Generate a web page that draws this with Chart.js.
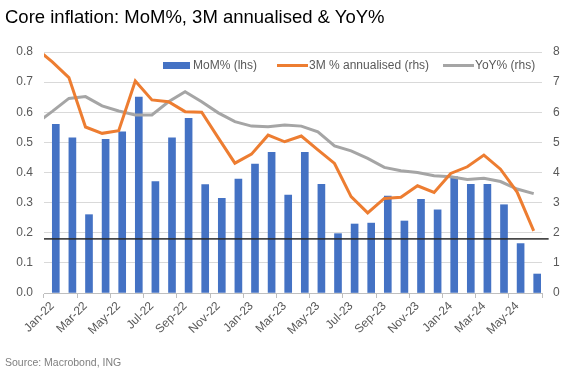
<!DOCTYPE html>
<html>
<head>
<meta charset="utf-8">
<script src="https://cdn.jsdelivr.net/npm/chart.js@4"></script>
<style>
  html, body { margin:0; padding:0; background:#fff; }
  #wrap { position:relative; width:580px; height:386px; overflow:hidden; }
  #title { position:absolute; left:5px; top:6px; font-family:'Liberation Sans', Arial, sans-serif; font-size:18.5px; line-height:22px; color:#000; white-space:nowrap; }
  #source { position:absolute; left:5px; top:356px; font-family:'Liberation Sans', Arial, sans-serif; font-size:10.5px; line-height:13px; color:#7f7f7f; white-space:nowrap; }
  canvas { position:absolute; left:0; top:0; }
</style>
</head>
<body>
<div id="wrap">
  <canvas id="c" width="580" height="386"></canvas>
  <div id="title">Core inflation: MoM%, 3M annualised &amp; YoY%</div>
  <div id="source">Source: Macrobond, ING</div>
</div>
<script>
// ---- Data ----
const months = ['Jan-22','Feb-22','Mar-22','Apr-22','May-22','Jun-22','Jul-22','Aug-22','Sep-22','Oct-22','Nov-22','Dec-22',
                'Jan-23','Feb-23','Mar-23','Apr-23','May-23','Jun-23','Jul-23','Aug-23','Sep-23','Oct-23','Nov-23','Dec-23',
                'Jan-24','Feb-24','Mar-24','Apr-24','May-24','Jun-24'];
const momPct = [0.56,0.515,0.26,0.51,0.535,0.65,0.37,0.515,0.58,0.36,0.314,0.378,
                0.428,0.467,0.325,0.467,0.361,0.197,0.229,0.232,0.322,0.239,0.311,0.276,
                0.386,0.361,0.361,0.293,0.164,0.063];
// value for Dec-21 (just before the visible range; the line runs in from the left edge)
const threeMPrior = 8.13;
const threeMAnn = [7.67,7.15,5.51,5.30,5.39,7.04,6.41,6.35,6.02,6.00,5.15,4.31,
                   4.61,5.24,5.02,5.21,4.75,4.30,3.20,2.66,3.14,3.18,3.56,3.34,
                   3.97,4.19,4.58,4.11,3.35,2.06];
const yoyPrior = 5.62;
const yoyPct = [6.03,6.46,6.52,6.21,6.04,5.91,5.91,6.35,6.68,6.35,5.98,5.69,
                5.54,5.52,5.58,5.54,5.35,4.88,4.72,4.47,4.17,4.06,4.00,3.89,
                3.86,3.77,3.81,3.70,3.45,3.30];
const refLevel = 1.8; // horizontal reference line (rhs)
const leftTicks = [0,0.1,0.2,0.3,0.4,0.5,0.6,0.7,0.8];
const rightTicks = [0,1,2,3,4,5,6,7,8];

const FONT = "'Liberation Sans', Arial, sans-serif";
Chart.defaults.font.family = FONT;
Chart.defaults.color = '#595959';

const toPts = (prior, arr) => [{x:-1, y:prior}].concat(arr.map((v,i)=>({x:i, y:v})));

const legendItems = [
  {text:'MoM% (lhs)', color:'#4472C4', kind:'box', x:163},
  {text:'3M % annualised (rhs)', color:'#ED7D31', kind:'line', x:277},
  {text:'YoY% (rhs)', color:'#A5A5A5', kind:'line', x:443}
];
const legendPlugin = {
  id:'customLegend',
  afterDraw(chart){
    const ctx = chart.ctx;
    const cy = 65.5;
    ctx.save();
    ctx.font = '12px ' + FONT;
    ctx.textBaseline = 'middle';
    ctx.textAlign = 'left';
    legendItems.forEach(it=>{
      let tx;
      if(it.kind==='box'){
        ctx.fillStyle = it.color;
        ctx.fillRect(it.x, cy-3.5, 27, 7);
        tx = it.x + 30;
      } else {
        ctx.strokeStyle = it.color;
        ctx.lineWidth = 3;
        ctx.beginPath();
        ctx.moveTo(it.x, cy); ctx.lineTo(it.x+31, cy);
        ctx.stroke();
        tx = it.x + 32;
      }
      ctx.fillStyle = '#595959';
      ctx.fillText(it.text, tx, cy);
    });
    ctx.restore();
  }
};

new Chart(document.getElementById('c'), {
  data: {
    labels: months,
    datasets: [
      {type:'line', label:'ref', data:[{x:-0.5,y:refLevel},{x:29.9,y:refLevel}], xAxisID:'x2', yAxisID:'y2',
       borderColor:'rgba(40,40,40,0.85)', borderWidth:1.8, pointRadius:0, tension:0, order:0, clip:false},
      {type:'line', label:'3M % annualised (rhs)', data:toPts(threeMPrior, threeMAnn), xAxisID:'x2', yAxisID:'y2',
       borderColor:'#ED7D31', borderWidth:3, pointRadius:0, tension:0, order:1},
      {type:'line', label:'YoY% (rhs)', data:toPts(yoyPrior, yoyPct), xAxisID:'x2', yAxisID:'y2',
       borderColor:'#A5A5A5', borderWidth:3, pointRadius:0, tension:0, order:2},
      {type:'bar', label:'MoM% (lhs)', data:momPct, xAxisID:'x', yAxisID:'y',
       backgroundColor:'#4472C4', barThickness:7, order:3}
    ]
  },
  options: {
    responsive:false,
    animation:false,
    devicePixelRatio:1,
    layout:{ padding:{ top:52, left:0, right:0, bottom:0 } },
    plugins:{ legend:{display:false}, tooltip:{enabled:false}, title:{display:false} },
    scales:{
      x:{
        type:'category', position:'bottom', offset:true,
        grid:{ offset:true, drawOnChartArea:false, drawTicks:true, tickLength:5,
               color:(c)=> (c.index===undefined || c.index%2===0) ? '#bfbfbf' : 'rgba(0,0,0,0)' },
        border:{ color:'#bfbfbf', width:1 },
        ticks:{ autoSkip:false, maxRotation:45, minRotation:45, padding:1,
                font:{size:12}, color:'#595959',
                callback:(v,i)=> i%2===0 ? months[i] : '' },
        afterFit:(s)=>{ s.height = 93; }
      },
      x2:{ type:'linear', display:false, min:-0.5, max:29.5 },
      y:{
        type:'linear', position:'left', min:0, max:0.8,
        afterBuildTicks:(s)=>{ s.ticks = leftTicks.map(v=>({value:v})); },
        ticks:{ callback:(v)=>Number(v).toFixed(1), padding:11, font:{size:12}, color:'#595959' },
        grid:{ color:'#d9d9d9', drawTicks:false, lineWidth:1 },
        border:{ display:false },
        afterFit:(s)=>{ s.width = 44; }
      },
      y2:{
        type:'linear', position:'right', min:0, max:8,
        afterBuildTicks:(s)=>{ s.ticks = rightTicks.map(v=>({value:v})); },
        ticks:{ padding:11, font:{size:12}, color:'#595959' },
        grid:{ drawOnChartArea:false, drawTicks:false },
        border:{ display:false },
        afterFit:(s)=>{ s.width = 38; }
      }
    }
  },
  plugins:[legendPlugin]
});
</script>
</body>
</html>
